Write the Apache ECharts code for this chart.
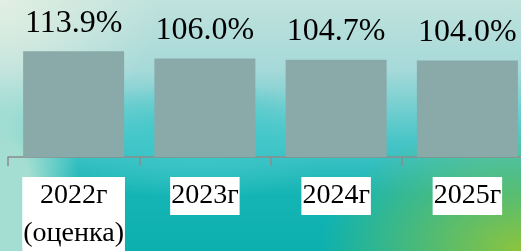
<!DOCTYPE html>
<html>
<head>
<meta charset="utf-8">
<script src="https://cdn.jsdelivr.net/npm/echarts@6/dist/echarts.min.js"></script>
<style>
  html, body { margin: 0; padding: 0; }
  #chart {
    width: 521px;
    height: 251px;
    background:
      radial-gradient(ellipse 200px 130px at 521px 251px, #8cc43e 0%, rgba(140,196,62,0) 100%),
      radial-gradient(ellipse 160px 140px at 0px 0px, #e2efe2 0%, rgba(226,239,226,0) 100%),
      radial-gradient(ellipse 80px 150px at 0px 200px, #a4ded2 0%, #a4ded2 40%, rgba(164,222,210,0) 100%),
      radial-gradient(ellipse 140px 60px at 200px 140px, #3ec8ca 0%, rgba(62,200,202,0) 100%),
      linear-gradient(180deg, #bfe2dc 0%, #a6d9d9 28%, #4cc6c8 55%, #14b4b4 78%, #0cb0ae 100%);
  }
</style>
</head>
<body>
<div id="chart"></div>
<script>
  // data
  const years = ['2022г\n(оценка)', '2023г', '2024г', '2025г'];
  const growth = [113.9, 106.0, 104.7, 104.0];

  const chart = echarts.init(document.getElementById('chart'));
  chart.setOption({
    animation: false,
    grid: { left: 8, width: 525, top: 0, height: 157, outerBoundsMode: 'none' },
    xAxis: {
      type: 'category',
      data: years,
      axisLine: { show: true, lineStyle: { color: '#8c8c8c', width: 1.5 } },
      axisTick: { show: true, length: 9, lineStyle: { color: '#8c8c8c', width: 1.5 } },
      axisLabel: {
        interval: 0,
        margin: 20,
        color: '#000',
        fontFamily: 'Liberation Serif',
        fontSize: 28,
        lineHeight: 38,
        backgroundColor: '#fff',
        padding: [0, 1],
        verticalAlign: 'top'
      }
    },
    yAxis: {
      type: 'value',
      min: 0,
      max: 169,
      show: false,
      splitLine: { show: false }
    },
    series: [
      {
        type: 'bar',
        data: growth,
        barWidth: 101,
        itemStyle: { color: '#8aaaa9' },
        label: {
          show: true,
          position: 'top',
          distance: 12,
          color: '#000',
          fontFamily: 'Liberation Serif',
          fontSize: 32,
          formatter: function (p) {
            return p.value.toFixed(1) + '%';
          }
        }
      }
    ]
  });
</script>
</body>
</html>
